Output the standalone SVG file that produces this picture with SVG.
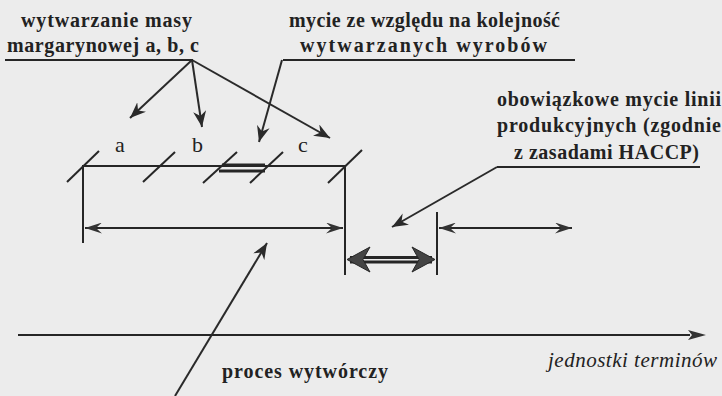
<svg xmlns="http://www.w3.org/2000/svg" width="722" height="396" viewBox="0 0 722 396">
<defs>
<style>
.bg{fill:#ececec}
.ln{stroke:#262626;stroke-width:2;fill:none}
.thk{stroke:#262626;stroke-width:3;fill:none}
.ptr{stroke:#2a2a2a;stroke-width:2;fill:none;marker-end:url(#ah)}
.dim{stroke:#262626;stroke-width:2;fill:none;marker-start:url(#dh);marker-end:url(#dh)}
.lbl{font-family:"Liberation Serif","Times New Roman",serif;font-weight:bold;font-size:20px;fill:#222}
.abc{font-family:"Liberation Serif","Times New Roman",serif;font-size:22px;fill:#222}
.it{font-family:"Liberation Serif","Times New Roman",serif;font-style:italic;font-size:21px;fill:#222}
.head{fill:#444;stroke:#262626;stroke-width:1}
</style>
<marker id="ah" markerUnits="userSpaceOnUse" markerWidth="17" markerHeight="13" refX="16" refY="6.5" orient="auto">
<path d="M0,0 L16,6.5 L0,13 L5,6.5 z" fill="#2a2a2a"/>
</marker>
<marker id="dh" markerUnits="userSpaceOnUse" markerWidth="18" markerHeight="11" refX="17" refY="5.5" orient="auto-start-reverse">
<path d="M0,0 L17,5.5 L0,11 L6,5.5 z" fill="#333"/>
</marker>
</defs>
<rect class="bg" x="0" y="0" width="722" height="396"/>

<g id="label-masy">
<text class="lbl" x="21" y="27" textLength="171" lengthAdjust="spacing">wytwarzanie masy</text>
<text class="lbl" x="7" y="52" textLength="192" lengthAdjust="spacing">margarynowej a, b, c</text>
<line class="ln" x1="5" y1="60" x2="193" y2="60"/>
</g>

<g id="label-mycie">
<text class="lbl" x="289" y="27" textLength="271" lengthAdjust="spacing">mycie ze względu na kolejność</text>
<text class="lbl" x="300" y="52" textLength="247" lengthAdjust="spacing">wytwarzanych wyrobów</text>
<line class="ln" x1="283" y1="60" x2="575" y2="60"/>
</g>

<g id="label-haccp">
<text class="lbl" x="497" y="106" textLength="224" lengthAdjust="spacing">obowiązkowe mycie linii</text>
<text class="lbl" x="497" y="132" textLength="224" lengthAdjust="spacing">produkcyjnych (zgodnie</text>
<text class="lbl" x="514" y="159" textLength="185" lengthAdjust="spacing">z zasadami HACCP)</text>
<line class="ln" x1="497" y1="167" x2="700" y2="167"/>
</g>

<g id="process-line">
<line class="ln" x1="83" y1="166" x2="345" y2="166"/>
<line class="thk" x1="222" y1="165" x2="265" y2="165"/>
<line class="thk" x1="219" y1="171" x2="265" y2="171"/>
<line class="ln" x1="83" y1="165" x2="83" y2="243"/>
<line class="ln" x1="345" y1="165" x2="345" y2="275"/>
<line class="ln" x1="67" y1="182" x2="99" y2="151"/>
<line class="ln" x1="143" y1="182" x2="175" y2="152"/>
<line class="ln" x1="203" y1="183" x2="237" y2="152"/>
<line class="ln" x1="250" y1="183" x2="283" y2="152"/>
<line class="ln" x1="328" y1="183" x2="362" y2="150"/>
<text class="abc" x="115" y="152">a</text>
<text class="abc" x="192" y="152">b</text>
<text class="abc" x="298" y="152">c</text>
</g>

<g id="washing">
<line class="ln" x1="437" y1="212" x2="437" y2="275"/>
<line class="thk" x1="350" y1="257.5" x2="432" y2="257.5"/>
<line class="thk" x1="350" y1="262" x2="432" y2="262"/>
<path class="head" d="M347,259.5 L370,247 L363,259.5 L370,272 z"/>
<path class="head" d="M435,259.5 L412,247 L419,259.5 L412,272 z"/>
</g>

<g id="axis">
<line class="ln" x1="18" y1="335" x2="690" y2="335"/>
<path d="M706,335 L688,330 L692,335 L688,340 z" fill="#333"/>
<text class="it" x="548" y="367" textLength="169" lengthAdjust="spacing">jednostki terminów</text>
</g>

<g id="label-proces">
<text class="lbl" x="222" y="378" textLength="166" lengthAdjust="spacing">proces wytwórczy</text>
</g>

<g id="connectors">
<line class="ptr" x1="192" y1="60" x2="130" y2="118"/>
<line class="ptr" x1="192" y1="60" x2="202" y2="127"/>
<line class="ptr" x1="192" y1="60" x2="330" y2="138"/>
<line class="ptr" x1="282" y1="60" x2="259" y2="142"/>
<line class="ptr" x1="497" y1="167" x2="392" y2="227"/>
<line class="ptr" x1="175" y1="396" x2="267" y2="243"/>
<line class="dim" x1="85" y1="228" x2="343" y2="228"/>
<line class="dim" x1="439" y1="228" x2="572" y2="228"/>
</g>
</svg>
